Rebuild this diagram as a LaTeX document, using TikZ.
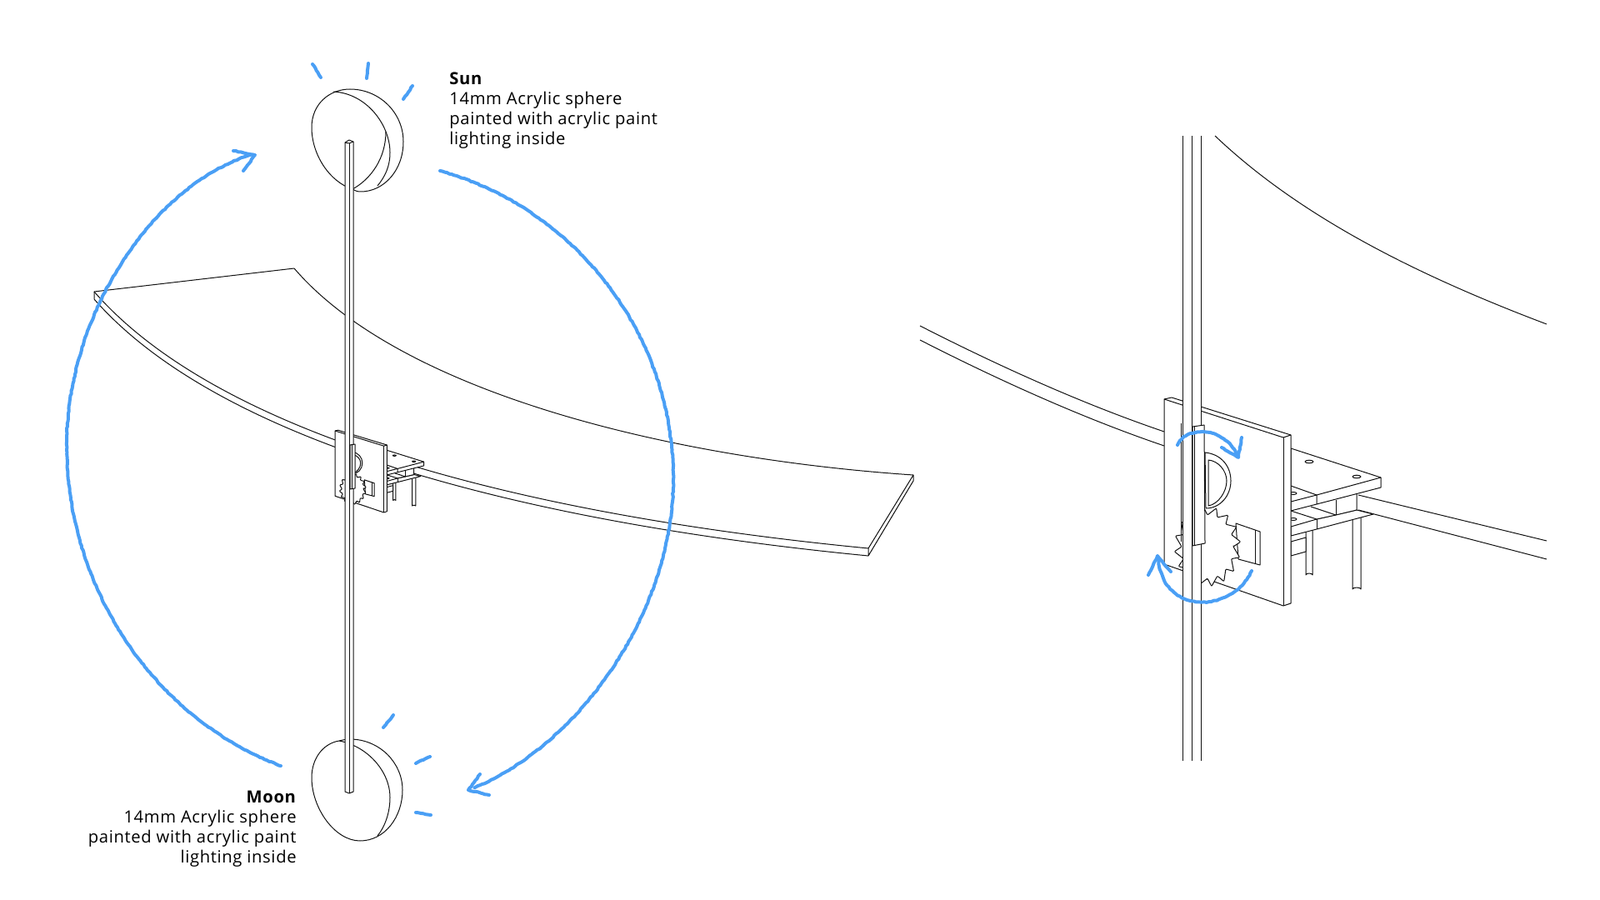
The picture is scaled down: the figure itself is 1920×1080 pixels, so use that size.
\documentclass[tikz,border=0pt]{standalone}
\usepackage{fontspec}
\setmainfont[LetterSpace=3.2]{Open Sans}
\usetikzlibrary{decorations.pathmorphing,positioning}
\definecolor{crayon}{HTML}{4A9FF5}
\definecolor{ink}{HTML}{111111}
\tikzstyle{outline}=[
	draw=ink,
	line width=.5pt,
	line join=round]
\tikzstyle{solid part}=[
	outline,
	fill=white]
\tikzstyle{crayon line}=[
	draw=crayon,
	line width=2pt,
	line cap=round,
	line join=round,
	decorate,
	decoration={random steps,segment length=1.5pt,amplitude=.25pt}]
\tikzstyle{caption}=[
	inner sep=0,
	font=\fontsize{10.1}{12}\selectfont]
\newcommand{\gearbox}{
	% legs and boards behind the plate
	\draw[solid part] (1567,630) -- (1567,690) arc[start angle=180,end angle=360,x radius=4,y radius=2] -- (1575,630) -- cycle;
	\draw[solid part] (1623,615) -- (1623,707) arc[start angle=180,end angle=360,x radius=5,y radius=2] -- (1633,615) -- cycle;
	\draw[solid part] (1549,650) -- (1567,645) -- (1567,662) -- (1549,667) -- cycle;
	\draw[solid part] (1549,632) -- (1580,623) -- (1628,612) -- (1648,617) -- (1580,635) -- (1549,643) -- cycle;
	\draw[outline] (1580,623) -- (1580,635);
	\draw[solid part] (1549,600) -- (1628,590) -- (1628,612) -- (1603,618) -- (1580,623) -- (1549,613) -- cycle;
	\draw[outline] (1603,600) -- (1603,618);
	\draw[outline] (1573,608) -- (1603,618);
	\draw[outline] (1552,623) ellipse [x radius=4,y radius=1.5];
	\draw[solid part] (1549,538) -- (1657,573) -- (1657,585) -- (1580,605) -- (1549,613) -- cycle;
	\draw[outline] (1549,583) -- (1580,594) -- (1657,573);
	\draw[outline] (1549,602) -- (1580,594) -- (1580,605);
	\draw[outline] (1552,592) ellipse [x radius=4,y radius=1.5];
	\draw[outline] (1571,554) ellipse [x radius=5,y radius=1.8];
	\draw[outline] (1628,572) ellipse [x radius=5,y radius=1.8];
	% plate
	\draw[solid part] (1397,479) -- (1406,477) -- (1549,522) -- (1549,724) -- (1540,727) -- (1397,677) -- cycle;
	\draw[outline] (1397,479) -- (1540,525) -- (1549,522);
	\draw[outline] (1540,525) -- (1540,727);
	% tab and gear
	\draw[solid part] (1483,628) -- (1512,638) -- (1512,678) -- (1486,671) -- cycle;
	\draw[outline] (1506,636) -- (1506,676);
	\draw[solid part,shift={(1449,656)},rounded corners=.5pt] (0:31 and 38) \foreach \tooth in {1,...,16} { -- (\tooth*22.5-7:40 and 48) -- (\tooth*22.5:31 and 38) } -- cycle;
	% half disc
	\draw[solid part] (1446,543) .. controls (1466,545) and (1477,560) .. (1477,577) .. controls (1477,595) and (1464,610) .. (1447,610) -- cycle;
	\draw[outline] (1450,552) .. controls (1462,553) and (1472,565) .. (1472,577) .. controls (1472,590) and (1462,605) .. (1450,607) -- cycle;
}

\begin{document}
\begin{tikzpicture}[x=.5pt,y=-.5pt]
	\useasboundingbox (0,0) rectangle (1920,1080);
	% shelf
	\draw[outline] (113,350) -- (353,322) .. controls (480,470) and (800,550) .. (1096,570) -- (1096,577) -- (1042,667) -- (1042,658) -- (1096,570);
	\draw[outline] (113,350) .. controls (270,530) and (650,620) .. (1042,658);
	\draw[outline] (113,350) -- (113,359) .. controls (270,538) and (650,629) .. (1042,667);
	% sun and moon
	\draw[outline] (423,227) .. controls (395,218) and (374,185) .. (374,153) .. controls (374,125) and (395,107) .. (420,107) .. controls (455,107) and (484,135) .. (484,170) .. controls (484,205) and (460,230) .. (433,230) .. controls (429,230) and (426,229) .. (423,227);
	\draw[outline] (423,227) .. controls (445,215) and (463,190) .. (463,158);
	\draw[outline] (400,110) .. controls (440,112) and (468,150) .. (468,183) .. controls (468,200) and (462,212) .. (453,223);
	\draw[outline] (407,889) .. controls (388,892) and (374,910) .. (374,933) .. controls (374,970) and (402,1009) .. (432,1009) .. controls (462,1009) and (483,980) .. (483,948) .. controls (483,915) and (455,887) .. (420,887) .. controls (415,887) and (411,888) .. (407,889);
	\draw[outline] (407,889) .. controls (440,895) and (468,925) .. (468,957) .. controls (468,975) and (462,992) .. (453,1003);
	% small gearbox
	\begin{scope}[shift={(-170.77,327.8)},xscale=.41,yscale=.395]
		\gearbox
	\end{scope}
	\draw[solid part] (414,171) -- (419,168) -- (424,170) -- (424,950) -- (419,952) -- (414,950) -- cycle;
	\draw[outline] (414,171) -- (419,172) -- (424,170);
	\draw[outline] (419,172) -- (419,952);
	\draw[solid part] (420,534) -- (426,533) -- (426,586) -- (420,587) -- cycle;
	\draw[outline] (422,534) -- (422,587);
	% large gearbox
	\draw[outline] (1458,163) .. controls (1560,260) and (1700,330) .. (1856,389);
	\draw[outline] (1104,391) .. controls (1200,440) and (1300,485) .. (1397,518);
	\draw[outline] (1104,408) .. controls (1200,457) and (1300,502) .. (1397,535);
	\draw[outline] (1630,594) -- (1856,649);
	\draw[outline] (1630,612) -- (1856,671);
	\gearbox
	\draw[outline] (1417,508) -- (1417,650);
	\fill[white] (1419,163) rectangle (1441,913);
	\draw[outline] (1419,163) -- (1419,913);
	\draw[outline] (1430,163) -- (1430,913);
	\draw[outline] (1441,163) -- (1441,913);
	\draw[solid part] (1431,512) -- (1445,510) -- (1446,652) -- (1431,655) -- cycle;
	\draw[outline] (1433,512) -- (1433,655);
	% motion
	\draw[crayon line] (337,919) .. controls (180,860) and (80,700) .. (80,535) .. controls (80,380) and (180,225) .. (300,186);
	\draw[crayon line] (280,181) -- (306,186) -- (292,205);
	\draw[crayon line] (528,205) .. controls (690,250) and (808,400) .. (808,575) .. controls (808,730) and (700,890) .. (570,945);
	\draw[crayon line] (576,929) -- (562,948) -- (587,954);
	\draw[crayon line] (375,77) -- (385,93);
	\draw[crayon line] (442,76) -- (440,94);
	\draw[crayon line] (495,103) -- (484,119);
	\draw[crayon line] (472,858) -- (460,873);
	\draw[crayon line] (516,908) -- (499,916);
	\draw[crayon line] (499,975) -- (517,978);
	\draw[crayon line] (1413,534) .. controls (1422,512) and (1470,510) .. (1485,548);
	\draw[crayon line] (1490,525) -- (1486,549) -- (1466,537);
	\draw[crayon line] (1502,685) .. controls (1480,735) and (1395,740) .. (1390,670);
	\draw[crayon line] (1378,690) -- (1389,667) -- (1405,686);
	% captions
	\node[caption,anchor=north west,align=left] (sun text) at (539,86.5) {\textbf{Sun}\\14mm Acrylic sphere\\painted with acrylic paint\\lighting inside};
	\node[caption,anchor=north east,align=right] (moon text) at (356,949) {\textbf{Moon}\\14mm Acrylic sphere\\painted with acrylic paint\\lighting inside};
\end{tikzpicture}
\end{document}
